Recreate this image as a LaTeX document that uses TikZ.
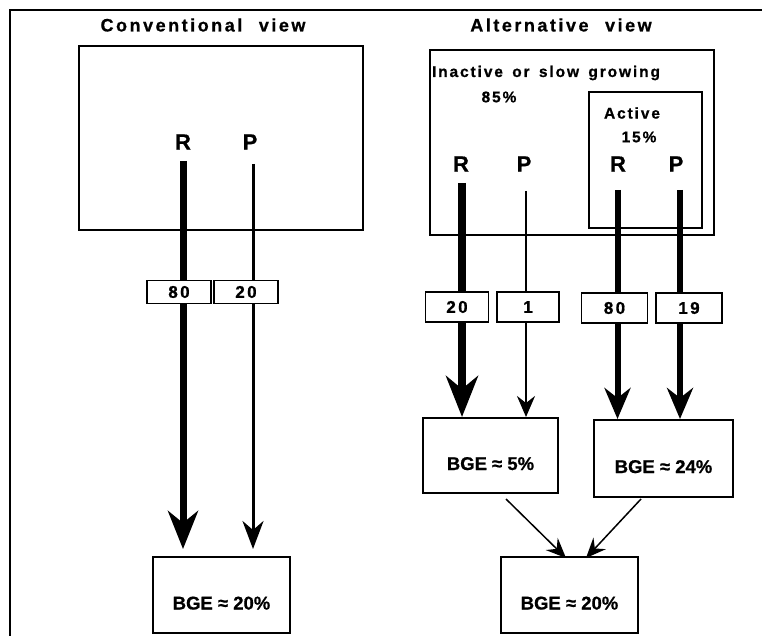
\documentclass[tikz,border=0pt]{standalone}
\usepackage{fontspec}
\setmainfont{Liberation Sans}[FakeBold=0.8]
\newfontfamily\spacedfont{Liberation Sans}[LetterSpace=12.2, WordSpace=1.5, FakeBold=0.8]
\newfontfamily\numfont{Liberation Sans}[LetterSpace=14, FakeBold=0.8]
\newfontfamily\titlefont{Liberation Sans}[LetterSpace=14, WordSpace=2.2, FakeBold=0.8]
\usetikzlibrary{arrows.meta,calc}
\begin{document}
\begin{tikzpicture}[x=1pt,y=-1pt,
  frameline/.style={line width=2pt},
  bigbox/.style={draw, line width=2pt, inner sep=0pt},
  titletext/.style={font=\titlefont\bfseries\fontsize{18}{20}\selectfont, inner sep=0pt},
  smalltext/.style={font=\spacedfont\bfseries\fontsize{15.5}{17}\selectfont, inner sep=0pt},
  rp/.style={font=\bfseries\fontsize{22}{24}\selectfont, inner sep=0pt},
  numbox/.style={draw, line width=1.8pt, fill=white, inner sep=0pt,
    font=\numfont\bfseries\fontsize{17}{18}\selectfont},
  bgebox/.style={draw, line width=2pt, fill=white, inner sep=0pt,
    font=\bfseries\fontsize{18.5}{20}\selectfont, text height=29pt, text depth=0pt},
  flowA/.style={line width=7pt, -{Stealth[length=38pt,width=30pt,inset=12pt]}},
  flowB/.style={line width=3pt, -{Stealth[length=28pt,width=21pt,inset=9pt]}},
  flowC/.style={line width=8pt, -{Stealth[length=41pt,width=32pt,inset=13pt]}},
  flowD/.style={line width=2.5pt, -{Stealth[length=21pt,width=18pt,inset=7pt]}},
  flowE/.style={line width=6pt, -{Stealth[length=31pt,width=26pt,inset=10pt]}},
  flowF/.style={line width=1.5pt, -{Stealth[length=20pt,width=17pt,inset=7pt]}}
]
\useasboundingbox (0,0) rectangle (762,636);

% outer frame (open on right and bottom)
\draw[frameline] (10,636) -- (10,10) -- (762,10);

% ---------- Conventional view ----------
\node[titletext] (ctitle) at (203,25) {Conventional view};
\node[bigbox, minimum width=284pt, minimum height=184pt] (cbox) at (221,138) {};
\node[rp] (cR) at (183,142) {R};
\node[rp] (cP) at (250,142) {P};
\node[bgebox, minimum width=137pt, minimum height=76pt] (cbge) at (221.5,595) {BGE ≈ 20\%};

\draw[flowA, shorten >=7pt] ([yshift=-11pt]cR.south) -- (cR.south |- cbge.north);
\draw[flowB, shorten >=7pt] ([xshift=3pt,yshift=-14pt]cP.south) -- ([xshift=3pt]cP.south |- cbge.north);

\node[numbox, minimum width=64pt, minimum height=23pt] (c80) at (179,292) {80};
\node[numbox, minimum width=64pt, minimum height=23pt] (c20) at (246,292) {20};

% ---------- Alternative view ----------
\node[titletext] (atitle) at (561,25) {Alternative view};
\node[bigbox, minimum width=284pt, minimum height=185pt] (abox) at (572,142.5) {};
\node[bigbox, minimum width=113pt, minimum height=136pt] (actbox) at (645.5,160) {};
\node[smalltext] (inact) at (546,73) {Inactive or slow growing};
\node[smalltext] (p85) at (499,97) {85\%};
\node[smalltext] (act) at (632,113) {Active};
\node[smalltext] (p15) at (639,137) {15\%};

\node[rp] (aR) at (461,164) {R};
\node[rp] (aP) at (524,164) {P};
\node[rp] (bR) at (618,164) {R};
\node[rp] (bP) at (676,164) {P};

\node[bgebox, minimum width=135pt, minimum height=75pt] (b5) at (490.5,455.5) {BGE ≈ 5\%};
\node[bgebox, minimum width=139pt, minimum height=77pt] (b24) at (663.5,458.5) {BGE ≈ 24\%};
\node[bgebox, minimum width=137pt, minimum height=76pt] (bbot) at (569.5,595) {BGE ≈ 20\%};

\draw[flowC] ([xshift=1pt,yshift=-11pt]aR.south) -- ([xshift=1pt]aR.south |- b5.north);
\draw[flowD] ([xshift=2pt,yshift=-19pt]aP.south) -- ([xshift=2pt]aP.south |- b5.north);
\draw[flowE] ([xshift=-0.5pt,yshift=-18pt]bR.south) -- ([xshift=-0.5pt]bR.south |- b24.north);
\draw[flowE] ([xshift=4pt,yshift=-18pt]bP.south) -- ([xshift=4pt]bP.south |- b24.north);

\node[numbox, minimum width=63pt, minimum height=30pt] (a20) at (457,307) {20};
\node[numbox, minimum width=62pt, minimum height=30pt] (a1) at (528,307) {1};
\node[numbox, minimum width=66pt, minimum height=30pt] (a80) at (614.5,308) {80};
\node[numbox, minimum width=66pt, minimum height=30pt] (a19) at (689,308) {19};

\draw[flowF] ([xshift=15.5pt,yshift=-5pt]b5.south) -- ([xshift=-3.5pt,yshift=-2pt]bbot.north);
\draw[flowF] ([xshift=-22.5pt,yshift=-1pt]b24.south) -- ([xshift=16.5pt,yshift=-2pt]bbot.north);

\end{tikzpicture}
\end{document}
